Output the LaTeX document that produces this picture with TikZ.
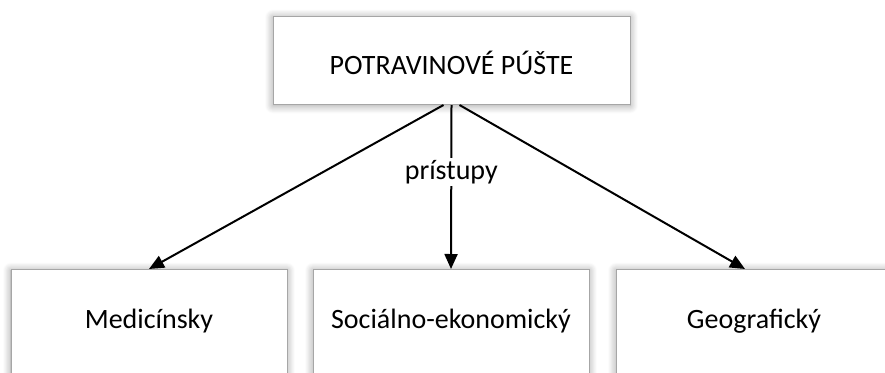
\documentclass[tikz,border=0pt]{standalone}
\usepackage{fontspec}
\setmainfont{Carlito}
\usetikzlibrary{arrows.meta,shadows.blur}
\definecolor{boxgray}{HTML}{A6A6A6}
\tikzset{
  box/.style={draw=boxgray,line width=1pt,fill=white,inner sep=0pt,anchor=north,
    blur shadow={shadow xshift=0pt,shadow yshift=-1pt,shadow blur steps=10,shadow blur radius=8pt,shadow opacity=40}},
  topbox/.style={box,minimum width=357pt,text height=58pt,text depth=30pt},
  branch/.style={box,minimum width=276pt,text height=59pt,text depth=71pt},
  link/.style={line width=2pt,-{Triangle[length=15pt,width=13pt]}},
  tag/.style={fill=white,inner sep=2pt}
}
\begin{document}
\begin{tikzpicture}[x=1pt,y=-1pt,font=\fontsize{28}{34}\selectfont]
\useasboundingbox (0,0) rectangle (885,372);
% main topic
\node[topbox] (desert) at (451.5,16) {POTRAVINOVÉ PÚŠTE};

% approaches
\node[branch] (med) at (149,269) {Medicínsky};
\node[branch] (soc) at (451,269) {Sociálno-ekonomický};
\node[branch] (geo) at (754,269) {Geografický};

% connectors
\draw[link] ([xshift=-8pt]desert.south) -- (med.north);
\draw[link] (desert.south) -- node[tag,pos=0.41] (via) {prístupy} (soc.north);
\draw[link] ([xshift=8pt]desert.south) -- ([xshift=-9pt]geo.north);
\end{tikzpicture}
\end{document}
